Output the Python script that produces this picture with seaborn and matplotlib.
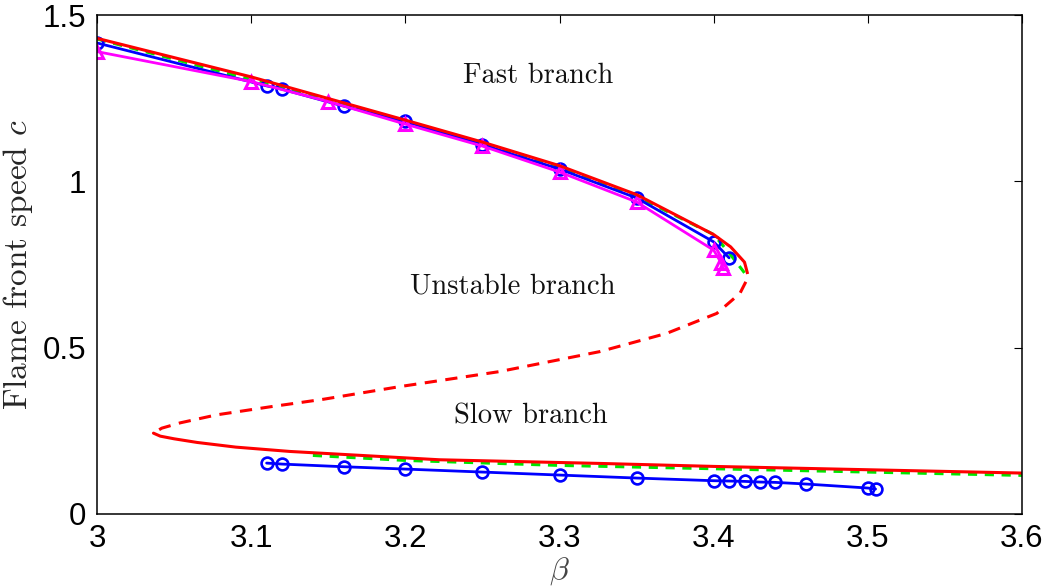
import matplotlib
matplotlib.use("Agg")
import matplotlib.pyplot as plt
import seaborn as sns
import numpy as np

# ---- data ----
red_upper_beta = [3.0, 3.05, 3.1, 3.15, 3.2, 3.25, 3.3, 3.35, 3.40, 3.411, 3.42]
red_upper_c    = [1.430, 1.372, 1.314, 1.249, 1.184, 1.118, 1.047, 0.960, 0.840, 0.803, 0.757]

red_unstable_beta = [3.42, 3.4225, 3.417, 3.402, 3.3695, 3.326, 3.261, 3.1965, 3.147, 3.112, 3.0776, 3.054, 3.042, 3.0366]
red_unstable_c    = [0.757, 0.713, 0.663, 0.603, 0.543, 0.488, 0.428, 0.383, 0.345, 0.322, 0.298, 0.274, 0.258, 0.243]

red_lower_beta = [3.0366, 3.041, 3.05, 3.065, 3.09, 3.125, 3.222, 3.326, 3.40, 3.5, 3.6]
red_lower_c    = [0.243, 0.234, 0.226, 0.215, 0.201, 0.188, 0.163, 0.152, 0.143, 0.133, 0.123]

green_upper_beta = [3.0, 3.1, 3.2, 3.3, 3.35, 3.40, 3.41, 3.42]
green_upper_c    = [1.428, 1.306, 1.179, 1.041, 0.955, 0.840, 0.785, 0.725]

green_lower_beta = [3.14, 3.2, 3.3, 3.4, 3.5, 3.6]
green_lower_c    = [0.176, 0.161, 0.146, 0.136, 0.126, 0.116]

blue_upper_beta = [3.0, 3.11, 3.12, 3.16, 3.2, 3.25, 3.3, 3.35, 3.40, 3.41]
blue_upper_c    = [1.416, 1.287, 1.277, 1.226, 1.180, 1.110, 1.037, 0.950, 0.818, 0.770]

blue_lower_beta = [3.11, 3.12, 3.16, 3.2, 3.25, 3.3, 3.35, 3.40, 3.41, 3.42, 3.43, 3.44, 3.46, 3.50, 3.505]
blue_lower_c    = [0.153, 0.150, 0.142, 0.135, 0.126, 0.117, 0.108, 0.100, 0.099, 0.098, 0.096, 0.095, 0.090, 0.078, 0.075]

mag_beta = [3.0, 3.1, 3.15, 3.2, 3.25, 3.3, 3.35, 3.40, 3.405, 3.406]
mag_c    = [1.390, 1.300, 1.240, 1.172, 1.106, 1.028, 0.938, 0.793, 0.754, 0.739]

labels_text = ["Fast branch", "Unstable branch", "Slow branch"]
labels_beta = [3.286, 3.2695, 3.2815]
labels_c = [1.317, 0.683, 0.293]

x_ticks = [3.0, 3.1, 3.2, 3.3, 3.4, 3.5, 3.6]
x_ticklabels = ["3", "3.1", "3.2", "3.3", "3.4", "3.5", "3.6"]
y_ticks = [0, 0.5, 1.0, 1.5]
y_ticklabels = ["0", "0.5", "1", "1.5"]

# ---- style ----
sns.set_theme(style="white")
plt.rcParams["font.family"] = ["Liberation Sans", "DejaVu Sans"]
plt.rcParams["mathtext.fontset"] = "cm"

fig = plt.figure(figsize=(10.57, 5.87), dpi=100)
ax = fig.add_axes([0.0918, 0.1244, 0.8751, 0.85])

RED, GREEN, BLUE, MAG = "#ff0000", "#00e600", "#0000ff", "#ff00ff"

# green dashed (underneath)
sns.lineplot(x=green_upper_beta, y=green_upper_c, sort=False, estimator=None, ax=ax,
             color=GREEN, lw=2.2, linestyle=(0, (3, 2.5)))
sns.lineplot(x=green_lower_beta, y=green_lower_c, sort=False, estimator=None, ax=ax,
             color=GREEN, lw=2.2, linestyle=(0, (3, 2.5)))

# blue circles
for bx, by in [(blue_upper_beta, blue_upper_c), (blue_lower_beta, blue_lower_c)]:
    sns.lineplot(x=bx, y=by, sort=False, estimator=None, ax=ax, color=BLUE, lw=2.0,
                 marker="o", markersize=8.5, markerfacecolor="none",
                 markeredgecolor=BLUE, markeredgewidth=1.9)

# magenta triangles
sns.lineplot(x=mag_beta, y=mag_c, sort=False, estimator=None, ax=ax, color=MAG, lw=2.0,
             marker="^", markersize=9, markerfacecolor="none",
             markeredgecolor=MAG, markeredgewidth=2.2)

# red curve
sns.lineplot(x=red_upper_beta, y=red_upper_c, sort=False, estimator=None, ax=ax,
             color=RED, lw=2.2)
sns.lineplot(x=red_unstable_beta, y=red_unstable_c, sort=False, estimator=None, ax=ax,
             color=RED, lw=2.2, linestyle=(0, (4, 2.8)))
sns.lineplot(x=red_lower_beta, y=red_lower_c, sort=False, estimator=None, ax=ax,
             color=RED, lw=2.2)

for t, bx, cy in zip(labels_text, labels_beta, labels_c):
    ax.text(bx, cy, t, ha="center", va="center", fontsize=20.5, family="cmr10", color="#111111")

ax.set_xlim(3.0, 3.6)
ax.set_ylim(0, 1.5)
ax.set_xticks(x_ticks)
ax.set_xticklabels(x_ticklabels)
ax.set_yticks(y_ticks)
ax.set_yticklabels(y_ticklabels)
ax.tick_params(direction="in", length=6, width=0.8, top=True, right=True,
               labelsize=22.5, colors="black")
ax.tick_params(axis="x", pad=7)
ax.tick_params(axis="y", pad=8)
for s in ax.spines.values():
    s.set_visible(True)
    s.set_color("black")
    s.set_linewidth(1.1)

ax.set_xlabel(r"$\beta$", fontsize=23, labelpad=1, color="#444444")
ax.set_ylabel(r"Flame front speed $c$", fontsize=24, labelpad=5, family="cmr10")

fig.savefig("out.png", dpi=100, facecolor="white")
